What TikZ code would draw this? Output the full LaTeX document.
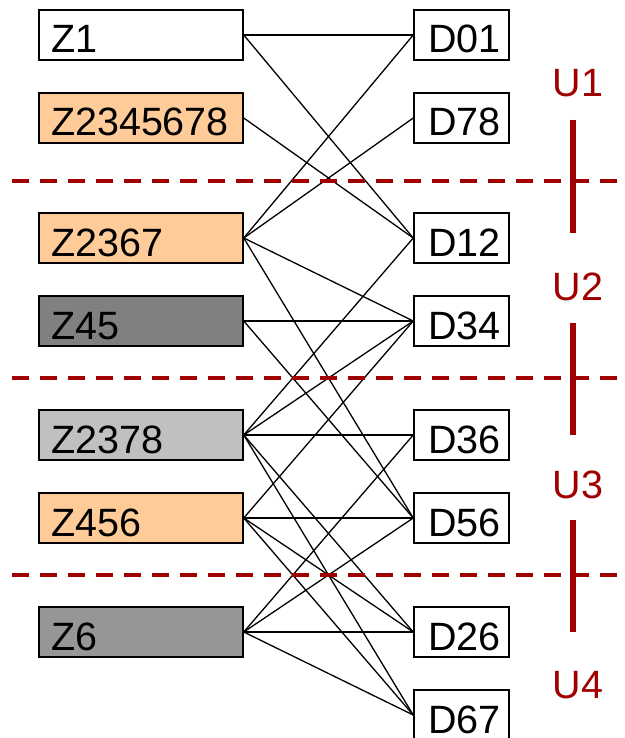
\documentclass[tikz,border=0pt]{standalone}
\usepackage{fontspec}
\setmainfont{Liberation Sans}

\definecolor{peach}{RGB}{255,204,153}
\definecolor{darkgrey}{RGB}{128,128,128}
\definecolor{midgrey}{RGB}{150,150,150}
\definecolor{lightgrey}{RGB}{192,192,192}
\definecolor{sepred}{RGB}{160,0,0}

\begin{document}
\begin{tikzpicture}[x=1pt,y=-1pt,
  box/.style={draw=black,line width=1.5pt,minimum height=50pt,inner ysep=3pt,
    text height=36pt,text depth=0pt,align=left,
    font=\fontsize{39.5}{40}\selectfont},
  zbox/.style={box,minimum width=204pt,text width=180pt,inner xsep=12pt},
  dbox/.style={box,fill=white,minimum width=95pt,text width=67pt,inner xsep=14pt},
  link/.style={line width=1.3pt,black},
  sep/.style={sepred,line width=3.5pt,dash pattern=on 17pt off 11pt},
  bar/.style={sepred,line width=6pt},
  ulabel/.style={text=sepred,font=\fontsize{39.5}{40}\selectfont}]

\useasboundingbox (0,0) rectangle (624,738);

% left column
\node[zbox,fill=white]     (Z1)       at (141,35)  {Z1};
\node[zbox,fill=peach]     (Z2345678) at (141,118) {Z2345678};
\node[zbox,fill=peach]     (Z2367)    at (141,238) {Z2367};
\node[zbox,fill=darkgrey]  (Z45)      at (141,321) {Z45};
\node[zbox,fill=lightgrey] (Z2378)    at (141,435) {Z2378};
\node[zbox,fill=peach]     (Z456)     at (141,518) {Z456};
\node[zbox,fill=midgrey]   (Z6)       at (141,632) {Z6};

% right column
\node[dbox] (D01) at (461.5,35)  {D01};
\node[dbox] (D78) at (461.5,118) {D78};
\node[dbox] (D12) at (461.5,238) {D12};
\node[dbox] (D34) at (461.5,321) {D34};
\node[dbox] (D36) at (461.5,435) {D36};
\node[dbox] (D56) at (461.5,518) {D56};
\node[dbox] (D26) at (461.5,632) {D26};
\node[dbox] (D67) at (461.5,715) {D67};

\draw[link] (Z1.east) -- (D01.west);
\draw[link] (Z1.east) -- (D12.west);
\draw[link] (Z2345678.east) -- (D12.west);

\draw[link] (Z2367.east) -- (D01.west);
\draw[link] (Z2367.east) -- (D78.west);
\draw[link] (Z2367.east) -- (D34.west);
\draw[link] (Z2367.east) -- (D56.west);

\draw[link] (Z45.east) -- (D34.west);
\draw[link] (Z45.east) -- (D56.west);

\draw[link] (Z2378.east) -- (D12.west);
\draw[link] (Z2378.east) -- (D34.west);
\draw[link] (Z2378.east) -- (D36.west);
\draw[link] (Z2378.east) -- (D26.west);
\draw[link] (Z2378.east) -- (D67.west);

\draw[link] (Z456.east) -- (D34.west);
\draw[link] (Z456.east) -- (D56.west);
\draw[link] (Z456.east) -- (D26.west);
\draw[link] (Z456.east) -- (D67.west);

\draw[link] (Z6.east) -- (D36.west);
\draw[link] (Z6.east) -- (D56.west);
\draw[link] (Z6.east) -- (D26.west);
\draw[link] (Z6.east) -- (D67.west);

% separators and units
\draw[sep] (12,181) -- (620,181);
\draw[sep] (12,378) -- (620,378);
\draw[sep] (12,575) -- (620,575);

\draw[bar] (573,120) -- (573,233);
\draw[bar] (573,323) -- (573,435);
\draw[bar] (573,520) -- (573,632);

\node[ulabel] (U1) at (578,83)  {U1};
\node[ulabel] (U2) at (578,287) {U2};
\node[ulabel] (U3) at (578,485) {U3};
\node[ulabel] (U4) at (578,685) {U4};
\end{tikzpicture}
\end{document}
